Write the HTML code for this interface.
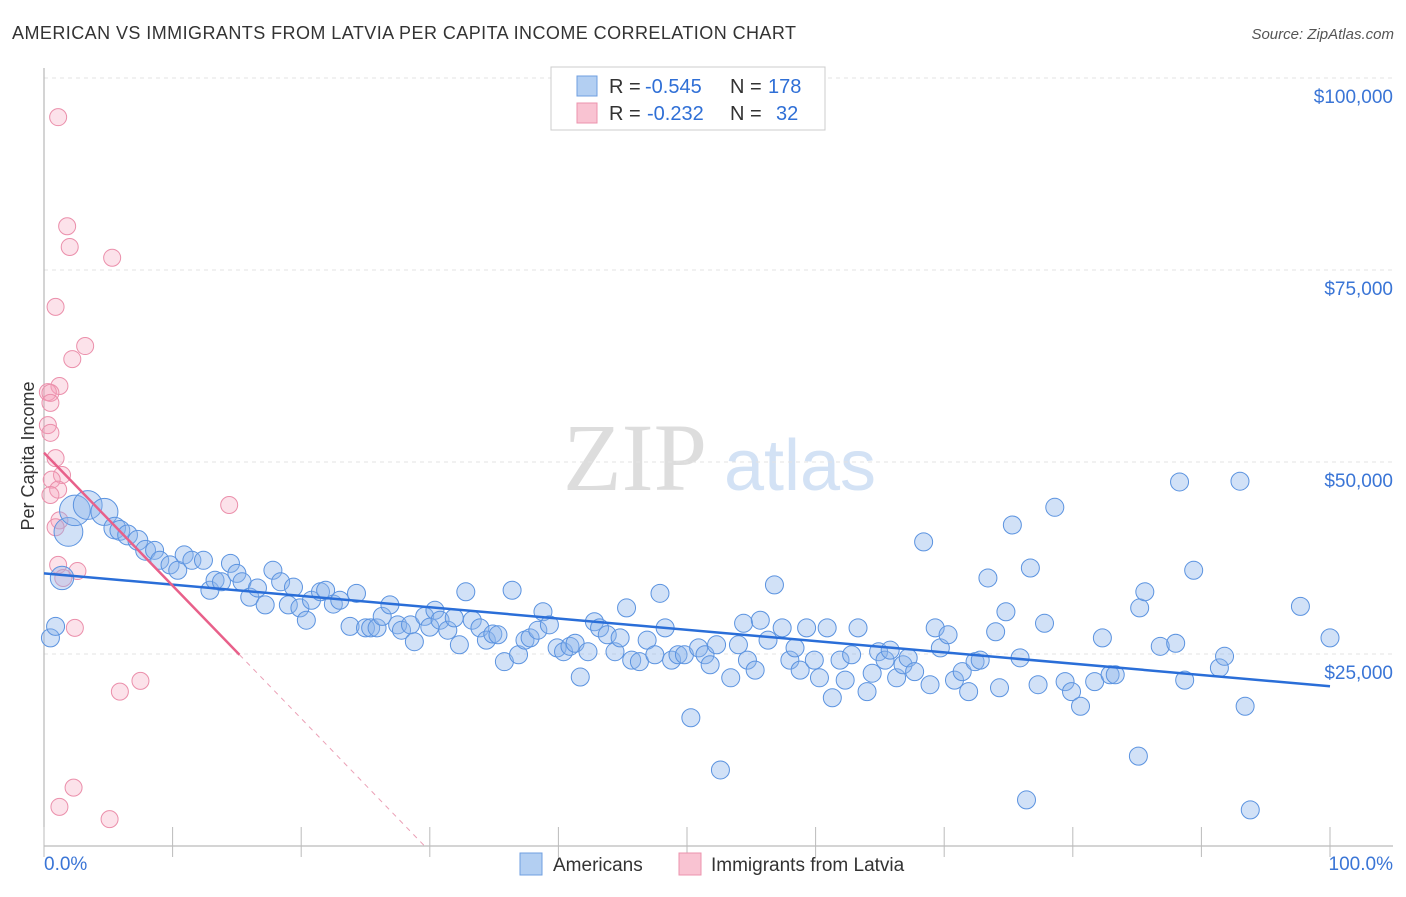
<!DOCTYPE html>
<html><head><meta charset="utf-8"><style>
body{margin:0;background:#fff;font-family:"Liberation Sans",sans-serif}
svg text{font-family:"Liberation Sans",sans-serif}
</style></head><body>
<svg id="c" width="1406" height="892">
<text x="12" y="39" font-size="18" fill="#333" textLength="784" lengthAdjust="spacing">AMERICAN VS IMMIGRANTS FROM LATVIA PER CAPITA INCOME CORRELATION CHART</text>
<text x="1394" y="39" font-size="15" fill="#555" text-anchor="end" font-style="italic">Source: ZipAtlas.com</text>
<g>
<text x="635" y="490" font-size="96" fill="#ddd" font-family="Liberation Serif" text-anchor="middle" style="font-family:'Liberation Serif',serif">ZIP</text>
<text x="800" y="490" font-size="72" fill="#d3e2f5" text-anchor="middle">atlas</text>
</g>
<g id="grid"></g><g id="axes"></g><g id="pts"></g><g id="trend"></g>
<text transform="translate(34,456) rotate(-90)" font-size="18" fill="#333" text-anchor="middle">Per Capita Income</text>
<g>
<rect x="551" y="67" width="274" height="63" fill="#fff" stroke="#ccc"/>
<rect x="577" y="76" width="20" height="20" fill="#b3cff2" stroke="#6f9fe0"/>
<rect x="577" y="103" width="20" height="20" fill="#f9c3d2" stroke="#ec93ad"/>
<text x="609" y="93" font-size="20" fill="#333">R = <tspan fill="#2f6fd6" x="645">-0.545</tspan><tspan x="730">N = </tspan><tspan fill="#2f6fd6" x="768">178</tspan></text>
<text x="609" y="120" font-size="20" fill="#333">R = <tspan fill="#2f6fd6" x="647">-0.232</tspan><tspan x="730">N = </tspan><tspan fill="#2f6fd6" x="776">32</tspan></text>
</g>
<g>
<rect x="520" y="853" width="22" height="22" fill="#b3cff2" stroke="#6f9fe0"/>
<text x="553" y="871" font-size="19" fill="#333">Americans</text>
<rect x="679" y="853" width="22" height="22" fill="#f9c3d2" stroke="#ec93ad"/>
<text x="711" y="871" font-size="19" fill="#333">Immigrants from Latvia</text>
</g>
</svg>
<script>
const yTicks=[25000,50000,75000,100000];
const yTickLabels=["$25,000","$50,000","$75,000","$100,000"];
const xTickLabels=["0.0%","100.0%"];
const bluePct=[0.5,0.9,1.4,1.9,2.4,3.4,4.7,5.5,5.9,6.5,7.3,7.9,8.6,9.0,9.8,10.4,10.9,11.5,12.4,12.9,13.3,13.8,14.5,15.0,15.4,16.0,16.6,17.2,17.8,18.4,19.0,19.4,19.9,20.4,20.8,21.5,21.9,22.5,23.0,23.8,24.3,25.0,25.4,25.9,26.3,26.9,27.5,27.8,28.5,28.8,29.6,30.0,30.4,30.8,31.4,31.9,32.3,32.8,33.3,33.9,34.4,34.9,35.3,35.8,36.4,36.9,37.4,37.8,38.4,38.8,39.3,39.9,40.4,40.9,41.3,41.7,42.3,42.8,43.2,43.8,44.4,44.8,45.3,45.7,46.3,46.9,47.5,47.9,48.3,48.8,49.3,49.8,50.3,50.9,51.4,51.8,52.3,52.6,53.4,54.0,54.4,54.7,55.3,55.7,56.3,56.8,57.4,58.0,58.4,58.8,59.3,59.9,60.3,60.9,61.3,61.9,62.3,62.8,63.3,64.0,64.4,64.9,65.4,65.8,66.3,66.8,67.2,67.7,68.4,68.9,69.3,69.7,70.3,70.8,71.4,71.9,72.4,72.8,73.4,74.0,74.3,74.8,75.3,75.9,76.4,76.7,77.3,77.8,78.6,79.4,79.9,80.6,81.7,82.3,82.9,83.3,85.1,85.2,85.6,86.8,88.0,88.3,88.7,89.4,91.4,91.8,93.0,93.4,93.8,97.7,100];
const blueVal=[27.1,28.6,34.9,40.9,43.7,44.4,43.5,41.4,41.1,40.5,39.8,38.5,38.5,37.2,36.6,35.9,37.9,37.2,37.2,33.3,34.6,34.4,36.8,35.5,34.4,32.4,33.6,31.4,35.9,34.4,31.4,33.7,31.0,29.4,32.0,33.1,33.3,31.5,32.0,28.6,32.9,28.4,28.4,28.4,29.9,31.4,28.8,28.1,28.8,26.6,29.9,28.5,30.7,29.4,28.1,29.7,26.2,33.1,29.4,28.4,26.8,27.6,27.5,24.0,33.3,24.9,26.8,27.1,28.1,30.5,28.8,25.8,25.3,26.0,26.4,22.0,25.3,29.2,28.4,27.5,25.3,27.1,31.0,24.2,24.0,26.8,24.9,32.9,28.4,24.2,24.9,24.9,16.7,25.8,24.9,23.6,26.2,9.9,21.9,26.2,29.0,24.2,22.9,29.4,26.8,34.0,28.4,24.2,25.8,22.9,28.4,24.2,21.9,28.4,19.3,24.2,21.6,24.9,28.4,20.1,22.5,25.3,24.2,25.5,21.9,23.6,24.5,22.7,39.6,21.0,28.4,25.8,27.5,21.6,22.7,20.1,24.0,24.2,34.9,27.9,20.6,30.5,41.8,24.5,6.0,36.2,21.0,29.0,44.1,21.4,20.1,18.2,21.4,27.1,22.3,22.3,11.7,31.0,33.1,26.0,26.4,47.4,21.6,35.9,23.2,24.7,47.5,18.2,4.7,31.2,27.1];
const blueWeight=[1,1,1.3,1.6,1.7,1.6,1.5,1.2,1.1,1.1,1.1,1.1];
const pinkPct=[1.1,1.8,2.0,5.3,0.9,3.2,2.2,1.2,0.3,0.5,0.5,0.3,0.5,0.9,1.4,0.6,1.1,0.5,1.2,0.9,1.1,2.6,1.5,14.4,2.4,5.9,7.5,2.3,1.2,5.1];
const pinkVal=[94.9,80.7,78.0,76.6,70.2,65.1,63.4,59.9,59.1,59.0,57.7,54.8,53.8,50.5,48.3,47.7,46.4,45.7,42.4,41.5,36.6,35.8,34.9,44.4,28.4,20.1,21.5,7.6,5.1,3.5];
const blueTrend=[35.5,20.8];
const pinkTrend=[51.2,-1.73];
const NS="http://www.w3.org/2000/svg";
const X=p=>44+p*12.86, Y=v=>846-v*0.00768;
function mk(t,a,par){const e=document.createElementNS(NS,t);for(const k in a)e.setAttribute(k,a[k]);document.getElementById(par).appendChild(e);return e;}
yTicks.forEach((v,i)=>{
 const g=mk('line',{x1:44,x2:1393,y1:Y(v),y2:Y(v),stroke:'#e3e3e3','stroke-dasharray':'4,4'},'grid');
 
 
 const t=mk('text',{x:1393,y:Y(v)+25,'font-size':19,fill:'#3a75d6','text-anchor':'end'},'grid');
 t.textContent=yTickLabels[i];
 
 
});
const ya=mk('line',{x1:44,x2:44,y1:68,y2:846,stroke:'#aaa'},'axes');


const xa=mk('line',{x1:44,x2:1393,y1:846,y2:846,stroke:'#aaa'},'axes');


for(let i=0;i<=10;i++){const tk=mk('line',{x1:X(i*10),x2:X(i*10),y1:827,y2:857,stroke:'#bbb'},'axes');
 
 }
[[0,'start',44],[1,'end',1393]].forEach(([i,a,x])=>{const t=mk('text',{x:x,y:870,'font-size':19,fill:'#3a75d6','text-anchor':a},'axes');t.textContent=xTickLabels[i];
 
 });
pinkPct.forEach((p,i)=>{const c=mk('circle',{cx:X(p),cy:Y(pinkVal[i]*1000),r:8.5,fill:'rgba(244,160,185,0.3)',stroke:'#eb8fab','stroke-width':1},'pts');
 
 });
bluePct.forEach((p,i)=>{const w=blueWeight[i]||1;const c=mk('circle',{cx:X(p),cy:Y(blueVal[i]*1000),r:9*w,fill:'rgba(140,180,235,0.4)',stroke:'#5b93e0','stroke-width':1},'pts');
 
 });
const bl=mk('line',{x1:X(0),y1:Y(blueTrend[0]*1000),x2:X(100),y2:Y(blueTrend[1]*1000),stroke:'#2a6ed8','stroke-width':2.5},'trend');


const pv=p=>pinkTrend[0]+pinkTrend[1]*p;
const pl=mk('line',{x1:X(0),y1:Y(pv(0)*1000),x2:X(15.2),y2:Y(pv(15.2)*1000),stroke:'#e8608a','stroke-width':2.5},'trend');


const pz=-pinkTrend[0]/pinkTrend[1];
const pd=mk('line',{x1:X(15.2),y1:Y(pv(15.2)*1000),x2:X(pz),y2:Y(0),stroke:'#eba0b6','stroke-width':1,'stroke-dasharray':'5,5'},'trend');


</script>
</body></html>
